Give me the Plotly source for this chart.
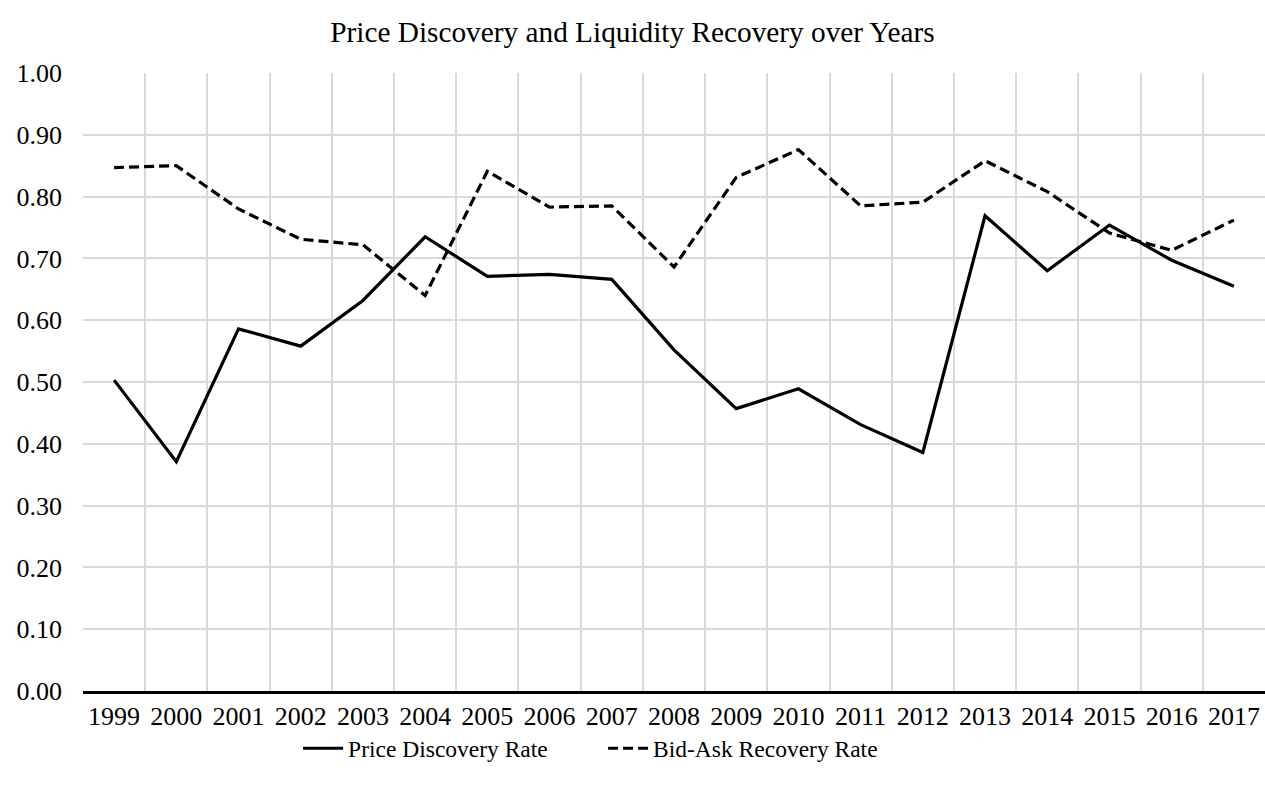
import plotly.graph_objects as go

years = [str(y) for y in range(1999, 2018)]
price_discovery = [0.503, 0.371, 0.586, 0.558, 0.632, 0.735, 0.671, 0.674, 0.666, 0.552,
                   0.457, 0.489, 0.431, 0.386, 0.769, 0.680, 0.754, 0.697, 0.655]
bid_ask = [0.847, 0.850, 0.780, 0.731, 0.722, 0.640, 0.841, 0.783, 0.785, 0.686,
           0.831, 0.876, 0.785, 0.791, 0.858, 0.808, 0.741, 0.713, 0.762]
y_ticks = [round(i * 0.1, 1) for i in range(11)]

font = "Liberation Serif"

fig = go.Figure()
fig.add_trace(go.Scatter(x=years, y=price_discovery, mode="lines", name="Price Discovery Rate",
                         line=dict(color="black", width=3.2)))
fig.add_trace(go.Scatter(x=years, y=bid_ask, mode="lines", name="Bid-Ask Recovery Rate",
                         line=dict(color="black", width=3.2, dash="10px,5px")))

fig.update_layout(
    width=1265, height=791,
    margin=dict(l=83, r=0, t=73, b=100),
    paper_bgcolor="white", plot_bgcolor="white",
    font=dict(family=font, size=26, color="black"),
    title=dict(text="Price Discovery and Liquidity Recovery over Years",
               x=0.5, xanchor="center", y=0.96, yanchor="middle",
               font=dict(family=font, size=29.3, color="black")),
    legend=dict(orientation="h", x=0.44, xanchor="center", y=-0.093, yanchor="middle",
                font=dict(family=font, size=23.5, color="black"), itemwidth=40,
                entrywidth=250),
    showlegend=True,
)
fig.update_xaxes(type="category", tickson="boundaries", showgrid=True, gridcolor="#d9d9d9",
                 gridwidth=2, showline=True, linecolor="black", linewidth=3, ticks="",
                 range=[-0.5, 18.5], ticklabelstandoff=0,
                 tickfont=dict(family=font, size=26, color="black"))
fig.update_yaxes(range=[0, 1], tickvals=y_ticks, tickformat=".2f", showgrid=True,
                 gridcolor="#d9d9d9", gridwidth=2, zeroline=False, showline=False,
                 ticks="", ticklabelstandoff=20,
                 tickfont=dict(family=font, size=26, color="black"))

fig.write_html("out.html")
